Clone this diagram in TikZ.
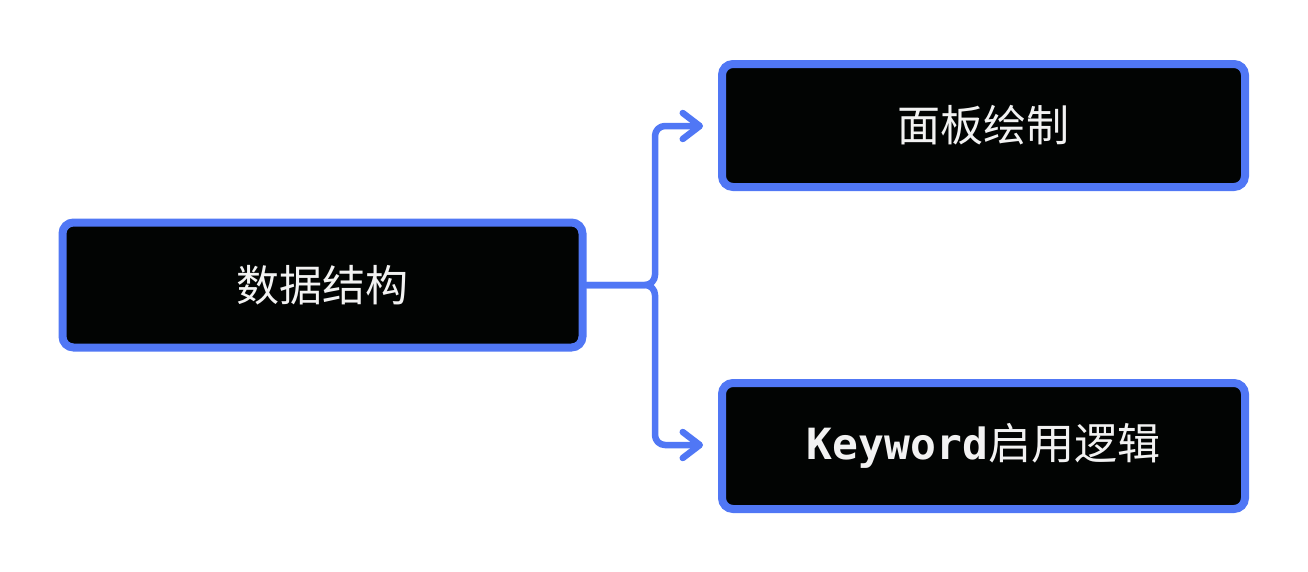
\documentclass[tikz,border=0pt]{standalone}
\usepackage{fontspec}
\newfontfamily\cjk{Noto Sans CJK SC}
\newfontfamily\monob{DejaVu Sans Mono}
\usetikzlibrary{arrows.meta}
\definecolor{edgeblue}{HTML}{5077F5}
\definecolor{boxfill}{HTML}{020403}
\definecolor{txt}{HTML}{F2F2F2}
\tikzset{
  box/.style={draw=edgeblue, line width=8pt, fill=boxfill, rounded corners=11pt,
    minimum width=520pt, minimum height=125pt, inner sep=0pt,
    text=txt, font=\cjk\fontsize{43}{51}\selectfont},
  link/.style={draw=edgeblue, line width=6.5pt, rounded corners=10pt, line cap=round, line join=round,
    -{Straight Barb[length=17pt,width=26pt,line cap=round,line join=round]}}
}
\begin{document}
\begin{tikzpicture}[x=1pt,y=-1pt]
\useasboundingbox (0,0) rectangle (1308,571);
\node[box] (src) at (322.5,285) {数据结构};
\node[box, minimum width=523pt, minimum height=123pt] (top) at (983.5,125.5) {面板绘制};
\node[box, minimum width=523pt, minimum height=126pt] (bot) at (983.5,446) {{\monob\bfseries Keyword}启用逻辑};
\coordinate (j) at (655,285);
\coordinate (tt) at (703,126);
\coordinate (bt) at (703,445);
\draw[link] (src.east) -- (j) |- (tt);
\draw[link] (src.east) -- (j) |- (bt);
\end{tikzpicture}
\end{document}
